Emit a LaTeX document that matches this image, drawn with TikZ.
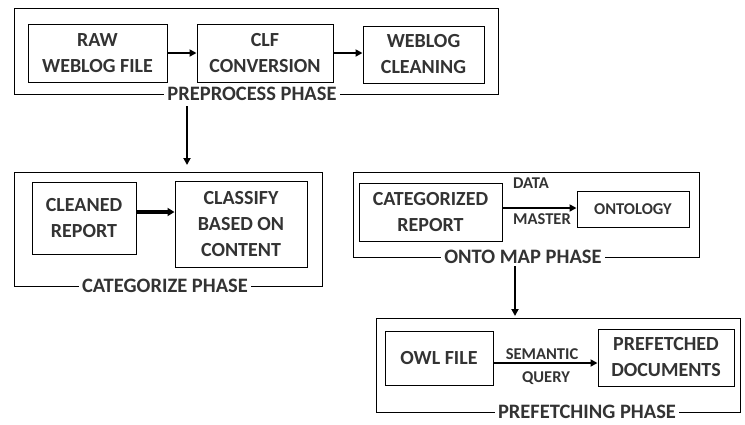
\documentclass[tikz,border=0pt]{standalone}
\usepackage{fontspec}
\setmainfont{Carlito}
\usetikzlibrary{arrows.meta}
\tikzset{
  boxnode/.style={draw, line width=1pt, align=center, inner sep=0pt,
    font=\bfseries\fontsize{20}{26}\selectfont, text=black!80},
  frame/.style={draw, line width=0.9pt},
  phase/.style={fill=white, inner xsep=3pt, inner ysep=0.5pt, font=\bfseries\fontsize{20.5}{22}\selectfont, text=black!80},
  small/.style={inner sep=0pt, font=\bfseries\fontsize{16.5}{17}\selectfont, text=black!80},
  flow/.style={line width=2pt, -{Triangle[length=7pt,width=7pt]}},
  thickflow/.style={line width=3.2pt, -{Triangle[length=7pt,width=8pt]}},
  downflow/.style={line width=1.8pt, -{Triangle[length=7pt,width=7pt]}}
}
\begin{document}
\begin{tikzpicture}[x=1pt,y=-1pt]
\useasboundingbox (0,0) rectangle (745,424);
% frames
\draw[frame] (14,8) rectangle (498,94);
\draw[frame] (14,172) rectangle (322,286);
\draw[frame] (353,172) rectangle (699,257);
\draw[frame] (376,318) rectangle (740,412);
% phase labels
\node[phase] (pp) at (252,94) {PREPROCESS PHASE};
\node[phase] (cp) at (165,286) {CATEGORIZE PHASE};
\node[phase] (op) at (523,257) {ONTO MAP PHASE};
\node[phase] (fp) at (587,412) {PREFETCHING PHASE};
% boxes
\node[boxnode, minimum width=139pt, minimum height=58pt] (raw) at (97.5,53) {RAW\\WEBLOG FILE};
\node[boxnode, minimum width=136pt, minimum height=58pt] (clf) at (265,53) {CLF\\CONVERSION};
\node[boxnode, minimum width=121pt, minimum height=57pt] (web) at (423.5,54.5) {WEBLOG\\CLEANING};
\node[boxnode, minimum width=104pt, minimum height=72pt] (cln) at (84,218) {CLEANED\\REPORT};
\node[boxnode, minimum width=132pt, minimum height=86pt] (cls) at (241,224) {CLASSIFY\\BASED ON\\CONTENT};
\node[boxnode, minimum width=143pt, minimum height=58pt] (cat) at (430.5,212) {CATEGORIZED\\REPORT};
\node[boxnode, minimum width=112pt, minimum height=36pt, font=\bfseries\fontsize{16.5}{18}\selectfont] (ont) at (633,209) {ONTOLOGY};
\node[boxnode, minimum width=108pt, minimum height=54pt] (owl) at (439,358) {OWL FILE};
\node[boxnode, minimum width=136pt, minimum height=57pt] (pre) at (666,357.5) {PREFETCHED\\DOCUMENTS};
% connector labels
\node[small] (data) at (531,183) {DATA};
\node[small] (mast) at (542,219) {MASTER};
\node[small] (sem) at (542,354) {SEMANTIC};
\node[small] (qry) at (546,378) {QUERY};
% arrows
\draw[flow] (raw.east |- 0,53) -- (clf.west |- 0,53);
\draw[flow] (clf.east |- 0,53) -- (web.west |- 0,53);
\draw[thickflow] (cln.east |- 0,212) -- (cls.west |- 0,212);
\draw[flow] (cat.east |- 0,208) -- (ont.west |- 0,208);
\draw[flow] (owl.east |- 0,363) -- (pre.west |- 0,363);
\coordinate (d1s) at (187,106);
\coordinate (d1e) at (187,165);
\coordinate (d2s) at (515,266);
\coordinate (d2e) at (515,316);
\draw[downflow] (d1s) -- (d1e);
\draw[downflow] (d2s) -- (d2e);
\end{tikzpicture}
\end{document}
